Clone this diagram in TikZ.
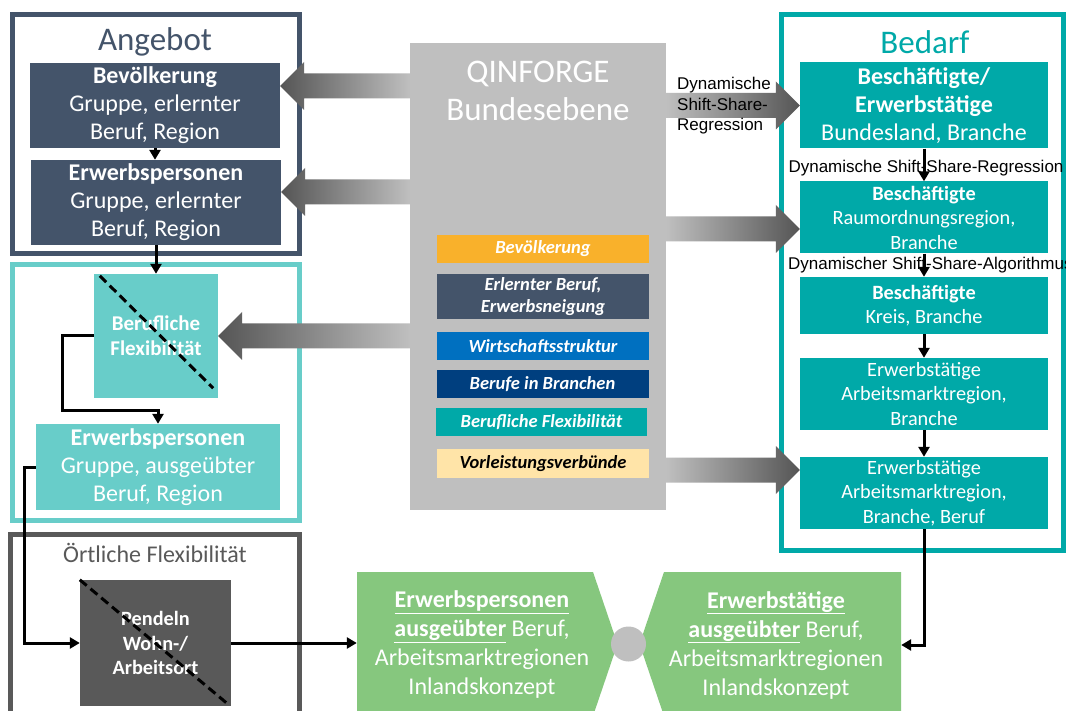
\documentclass[tikz,border=0pt]{standalone}
\usepackage{fontspec}
\setmainfont{Carlito}
\newfontfamily\arialfont{Liberation Sans}
\usepackage{xcolor}
\usepackage{tikz}
\usetikzlibrary{shapes,positioning,calc,arrows.meta}

\definecolor{angebotblue}{HTML}{44546A}
\definecolor{flexteal}{HTML}{68CDC9}
\definecolor{bedarfteal}{HTML}{00A9A8}
\definecolor{ortgrey}{HTML}{595959}
\definecolor{qgrey}{HTML}{BFBFBF}
\definecolor{arrdark}{HTML}{555555}
\definecolor{barorange}{HTML}{F9B12B}
\definecolor{barblue}{HTML}{0070C0}
\definecolor{barnavy}{HTML}{003F7F}
\definecolor{barcream}{HTML}{FFE4A8}
\definecolor{resgreen}{HTML}{86C77E}

% shaded block arrow: style, tip, tail, head length (negative points right)
\newcommand{\fatarrow}[4]{%
  \shade[#1] (#2) -- ++(#4,-24) -- ++(0,11.5) -- ($(#3)+(0,-12.5)$)
    -- ($(#3)+(0,12.5)$) -- ($(#2)+(#4,12.5)$) -- ++(0,11.5) -- cycle;}

\begin{document}
\begin{tikzpicture}[x=1pt,y=-1pt,
    box/.style={rectangle, inner sep=0pt, align=center, text=white},
    txtbig/.style={font=\fontsize{24}{28}\selectfont},
    txtsmall/.style={font=\fontsize{20.3}{24.5}\selectfont},
    txttitle/.style={font=\fontsize{33}{38}\selectfont, inner sep=0pt, align=center},
    bar/.style={box, minimum width=212pt, font=\fontsize{18.5}{21.5}\selectfont\bfseries\itshape},
    rahmen/.style={line width=4.5pt},
    conn/.style={line width=3pt, -{Triangle[length=10pt,width=11pt]}},
    cut/.style={line width=3pt, dash pattern=on 9pt off 5pt},
    ssnote/.style={font=\arialfont\fontsize{17}{20.5}\selectfont, align=left, inner sep=0pt},
    shadeL/.style={left color=arrdark, right color=qgrey},
    shadeR/.style={left color=qgrey, right color=arrdark}]
    \useasboundingbox (0,0) rectangle (1066,711);
    \clip (0,0) rectangle (1066,711);
    \fill[white] (0,0) rectangle (1066,711);

    % Frames
    \draw[rahmen, angebotblue] (12.5,14.5) rectangle (299.5,253.5);
    \draw[rahmen, flexteal] (12.5,264.5) rectangle (299.5,520.5);
    \draw[rahmen, ortgrey] (10.5,720) -- (10.5,534.5) -- (299.5,534.5) -- (299.5,720);
    \draw[rahmen, bedarfteal] (781.5,14.5) rectangle (1063.5,550.5);

    % Angebot
    \node[txttitle, text=angebotblue] (angtitle) at (155,42) {Angebot};
    \node[box, txtbig, fill=angebotblue, minimum width=250pt, minimum height=85pt] (bev) at (155,105.5)
        {\textbf{Bevölkerung}\\Gruppe, erlernter\\Beruf, Region};
    \node[box, txtbig, fill=angebotblue, minimum width=250pt, minimum height=85pt] (erw1) at (156,202.5)
        {\textbf{Erwerbspersonen}\\Gruppe, erlernter\\Beruf, Region};

    % Berufliche Flexibilitaet
    \node[box, fill=flexteal, font=\fontsize{21}{25}\selectfont\bfseries, minimum width=124pt, minimum height=124pt] (bflex) at (156,336)
        {Berufliche\\Flexibilität};
    \draw[cut] ($(bflex.north west)+(6,2)$) -- ($(bflex.south east)+(-5,-10)$);
    \node[box, txtbig, fill=flexteal, minimum width=244pt, minimum height=86pt] (erw2) at (158,467)
        {\textbf{Erwerbspersonen}\\Gruppe, ausgeübter\\Beruf, Region};

    % Oertliche Flexibilitaet
    \node[txttitle, text=ortgrey, font=\fontsize{24}{28}\selectfont] (orttitle) at (155,553) {Örtliche Flexibilität};
    \node[box, fill=ortgrey, font=\fontsize{20.3}{24.5}\selectfont\bfseries, minimum width=151pt, minimum height=126pt] (pendeln) at (155.5,643)
        {Pendeln\\Wohn-/\\Arbeitsort};
    \draw[cut] (pendeln.north west) -- ($(pendeln.south east)+(-2,-1)$);

    % QINFORGE
    \node[box, fill=qgrey, minimum width=256pt, minimum height=467pt] (qin) at (538,276.5) {};
    \node[txttitle, text=white] (qintitle) at (538,91) {QINFORGE\\Bundesebene};
    \node[bar, fill=barorange] (barbev) at (543,249) [minimum height=28pt] {Bevölkerung};
    \node[bar, fill=angebotblue] (barber) at (543,296.5) [minimum height=45pt] {Erlernter Beruf,\\Erwerbsneigung};
    \node[bar, fill=barblue] (barwirt) at (543,346) [minimum height=28pt] {Wirtschaftsstruktur};
    \node[bar, fill=barnavy] (barbran) at (542.5,384) [minimum height=28pt] {Berufe in Branchen};
    \node[bar, fill=bedarfteal, minimum width=211pt] (barflex) at (541.5,422) [minimum height=28pt] {Berufliche Flexibilität};
    \node[bar, fill=barcream, text=black] (barvor) at (543,463.5) [minimum height=29pt] {Vorleistungsverbünde};

    % Bedarf
    \node[txttitle, text=bedarfteal] (bedtitle) at (925,42) {Bedarf};
    \node[box, txtbig, fill=bedarfteal, minimum width=248pt, minimum height=86pt] (b1) at (924,105.5)
        {\textbf{Beschäftigte/}\\\textbf{Erwerbstätige}\\Bundesland, Branche};
    \node[box, txtsmall, fill=bedarfteal, minimum width=248pt, minimum height=72pt] (b2) at (924,217.5)
        {\textbf{Beschäftigte}\\Raumordnungsregion,\\Branche};
    \node[box, txtsmall, fill=bedarfteal, minimum width=248pt, minimum height=57pt] (b3) at (924,305.5)
        {\textbf{Beschäftigte}\\Kreis, Branche};
    \node[box, txtsmall, fill=bedarfteal, minimum width=248pt, minimum height=72pt] (b4) at (924,394)
        {Erwerbstätige\\Arbeitsmarktregion,\\Branche};
    \node[box, txtsmall, fill=bedarfteal, minimum width=248pt, minimum height=72pt] (b5) at (924,493)
        {Erwerbstätige\\Arbeitsmarktregion,\\Branche, Beruf};
    \node[ssnote] (ssreg) at (926,168) {Dynamische Shift-Share-Regression};
    \node[ssnote, anchor=west] (ssalg) at (788,265) {Dynamischer Shift-Share-Algorithmus};

    % Results
    \fill[resgreen] (357,572) -- (593,572) -- (617.5,644) -- (593,716) -- (357,716) -- cycle;
    \fill[resgreen] (664,572) -- (901,572) -- (901,716) -- (664,716) -- (639.5,644) -- cycle;
    \node[box, font=\fontsize{24}{29}\selectfont, minimum width=250pt] (gl) at (482,645)
        {\textbf{\underline{Erwerbspersonen}}\\\textbf{\underline{ausgeübter}} Beruf,\\Arbeitsmarktregionen\\Inlandskonzept};
    \node[box, font=\fontsize{24}{29}\selectfont, minimum width=250pt] (gr) at (776,645)
        {\textbf{\underline{Erwerbstätige}}\\\textbf{\underline{ausgeübter}} Beruf,\\Arbeitsmarktregionen\\Inlandskonzept};
    \node[circle, fill=qgrey, minimum size=35pt, inner sep=0pt] (circ) at (628.5,644) {};

    % Block arrows
    \coordinate (a1tip) at (bev.east |- 0,86);
    \coordinate (a1tail) at (qin.west |- a1tip);
    \coordinate (a2tip) at (erw1.east |- 0,192);
    \coordinate (a2tail) at (qin.west |- a2tip);
    \coordinate (a3tip) at (bflex.east);
    \coordinate (a3tail) at (qin.west |- a3tip);
    \coordinate (a4tip) at (b1.west);
    \coordinate (a4tail) at (qin.east |- a4tip);
    \coordinate (a5tip) at (b2.west |- 0,229);
    \coordinate (a5tail) at (qin.east |- a5tip);
    \coordinate (a6tip) at (b5.west |- 0,470);
    \coordinate (a6tail) at (qin.east |- a6tip);
    \fatarrow{shadeL}{a1tip}{a1tail}{24}
    \fatarrow{shadeL}{a2tip}{a2tail}{24}
    \fatarrow{shadeL}{a3tip}{a3tail}{24}
    \fatarrow{shadeR}{a4tip}{a4tail}{-24}
    \fatarrow{shadeR}{a5tip}{a5tail}{-24}
    \fatarrow{shadeR}{a6tip}{a6tail}{-24}
    \node[ssnote, anchor=west] (ssarrow) at (677,106) {Dynamische\\Shift-Share-\\Regression};

    % Connectors
    \draw[conn] (bev.south) -- (bev.south |- erw1.north);
    \draw[conn] (erw1.south) -- (erw1.south |- bflex.north);
    \coordinate (loopbf) at (62,410);
    \draw[conn] (bflex.west) -| (loopbf) -| (erw2.north);
    \coordinate (looport) at (24,643);
    \draw[conn] (erw2.west) -| (looport) -- (pendeln.west);
    \draw[conn] (pendeln.east) -- (gl.west |- pendeln.east);
    \foreach \a/\b in {b1/b2, b2/b3, b3/b4, b4/b5}
        \draw[conn] (\a.south) -- (\b.north);
    \draw[conn] (b5.south) |- (gr.east);
\end{tikzpicture}
\end{document}
